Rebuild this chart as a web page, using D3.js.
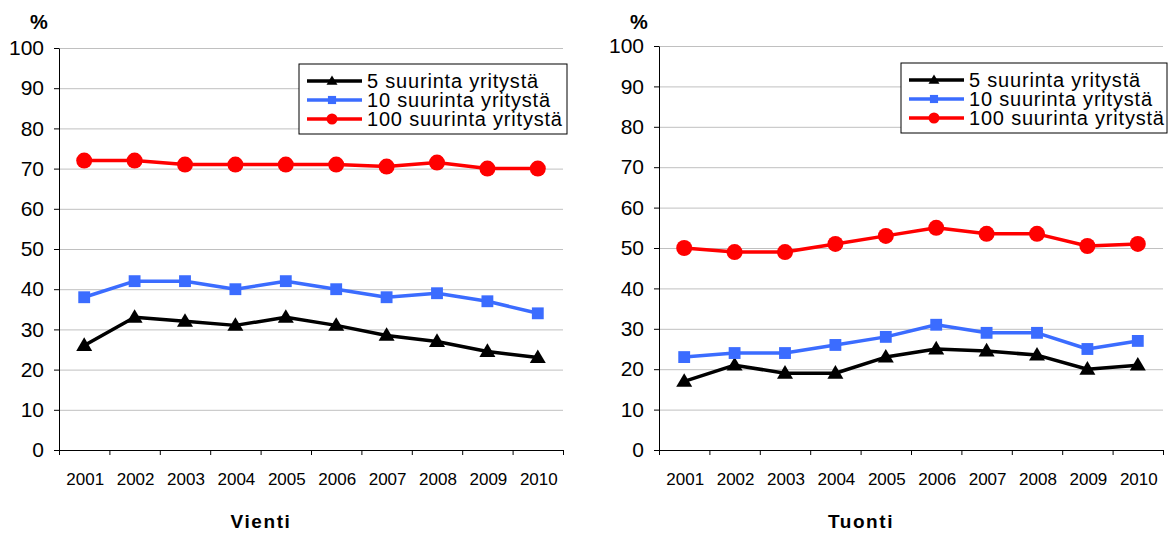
<!DOCTYPE html>
<html>
<head>
<meta charset="utf-8">
<script src="https://cdn.jsdelivr.net/npm/d3@7/dist/d3.min.js"></script>
<style>
  body { margin: 0; background: #fff; }
  svg { display: block; font-family: "Liberation Sans", Arial, sans-serif; }
</style>
</head>
<body>
<svg id="chart" width="1170" height="536"></svg>
<script>
// Data
var years = ['2001', '2002', '2003', '2004', '2005', '2006', '2007', '2008', '2009', '2010'];
var yTicks = [0, 10, 20, 30, 40, 50, 60, 70, 80, 90, 100];
var seriesNames = ['5 suurinta yritystä', '10 suurinta yritystä', '100 suurinta yritystä'];

var vientiTop5 = [26, 33, 32, 31, 33, 31, 28.5, 27, 24.5, 23];
var vientiTop10 = [38, 42, 42, 40, 42, 40, 38, 39, 37, 34];
var vientiTop100 = [72, 72, 71, 71, 71, 71, 70.5, 71.5, 70, 70];

var tuontiTop5 = [17, 21, 19, 19, 23, 25, 24.5, 23.5, 20, 21];
var tuontiTop10 = [23, 24, 24, 26, 28, 31, 29, 29, 25, 27];
var tuontiTop100 = [50, 49, 49, 51, 53, 55, 53.5, 53.5, 50.5, 51];

// Tyylit
var colors = ['#000000', '#3b6cff', '#ff0000'];
var markers = ['triangle', 'square', 'circle'];

var svg = d3.select('#chart');

function drawMarker(g, type, cx, cy, size, color) {
  if (type === 'circle') {
    g.append('circle').attr('cx', cx).attr('cy', cy).attr('r', size / 2).attr('fill', color);
  } else if (type === 'square') {
    var s = size * 0.74;
    g.append('rect').attr('x', cx - s / 2).attr('y', cy - s / 2)
      .attr('width', s).attr('height', s).attr('fill', color);
  } else {
    var h = size * 0.85, w = size;
    g.append('path')
      .attr('d', 'M' + cx + ',' + (cy - h * 0.6) + 'L' + (cx + w / 2) + ',' + (cy + h * 0.4) + 'L' + (cx - w / 2) + ',' + (cy + h * 0.4) + 'Z')
      .attr('fill', color);
  }
}

function drawChart(opts) {
  var g = svg.append('g');

  var x = d3.scaleBand().domain(years).range([opts.left, opts.right]).padding(0);
  var xEdge = d3.scaleLinear().domain([0, years.length]).range([opts.left, opts.right]);
  var y = d3.scaleLinear().domain([0, 100]).range([opts.bottom, opts.top]);

  // Apuviivat
  g.append('g')
    .attr('transform', 'translate(' + opts.left + ',0)')
    .call(d3.axisLeft(y).tickValues(yTicks).tickSize(-(opts.right - opts.left)).tickFormat(''))
    .call(function (s) {
      s.select('.domain').remove();
      s.selectAll('line').attr('stroke', '#c0c0c0');
    });

  // Y-akseli
  g.append('g')
    .attr('transform', 'translate(' + opts.left + ',0)')
    .call(d3.axisLeft(y).tickValues(yTicks).tickSize(5).tickPadding(10).tickSizeOuter(0))
    .call(function (s) {
      s.selectAll('text').attr('font-size', 21).attr('fill', '#000').attr('font-family', '"Liberation Sans", Arial, sans-serif');
      s.selectAll('line, path').attr('stroke', '#000');
    });

  // X-akseli (tikit luokkien rajoilla)
  g.append('g')
    .attr('transform', 'translate(0,' + opts.bottom + ')')
    .call(d3.axisBottom(xEdge).ticks(years.length).tickSize(5).tickSizeOuter(0).tickFormat(''))
    .call(function (s) {
      s.selectAll('line, path').attr('stroke', '#000');
    });

  g.selectAll('.year')
    .data(years)
    .enter()
    .append('text')
    .attr('x', function (d) { return x(d) + x.bandwidth() / 2 + 1; })
    .attr('y', opts.bottom + 35)
    .attr('text-anchor', 'middle')
    .attr('font-size', 17)
    .text(function (d) { return d; });

  // Sarjat
  var line = d3.line()
    .x(function (d, i) { return x(years[i]) + x.bandwidth() / 2; })
    .y(function (d) { return y(d); });

  opts.series.forEach(function (values, k) {
    g.append('path')
      .attr('d', line(values))
      .attr('fill', 'none')
      .attr('stroke', colors[k])
      .attr('stroke-width', 3.5)
      .attr('stroke-linejoin', 'round');
    values.forEach(function (v, i) {
      drawMarker(g, markers[k], x(years[i]) + x.bandwidth() / 2, y(v), 16, colors[k]);
    });
  });

  // %-merkki
  g.append('text')
    .attr('x', opts.left - 20)
    .attr('y', 29)
    .attr('text-anchor', 'middle')
    .attr('font-size', 20)
    .attr('font-weight', 'bold')
    .text('%');

  // Otsikko
  g.append('text')
    .attr('x', opts.left + 202)
    .attr('y', 528)
    .attr('text-anchor', 'middle')
    .attr('font-size', 19)
    .attr('font-weight', 'bold')
    .attr('letter-spacing', 1.6)
    .text(opts.title);

  // Selite
  var lg = g.append('g').attr('transform', 'translate(' + opts.legendX + ',' + opts.legendY + ')');
  lg.append('rect')
    .attr('width', opts.legendW)
    .attr('height', 70)
    .attr('fill', '#fff')
    .attr('stroke', '#000')
    .attr('stroke-width', 1);

  seriesNames.forEach(function (name, k) {
    var ry = 17 + k * 19;
    lg.append('line')
      .attr('x1', 8).attr('x2', 63)
      .attr('y1', ry).attr('y2', ry)
      .attr('stroke', colors[k])
      .attr('stroke-width', 3.5);
    drawMarker(lg, markers[k], 33, ry, 11, colors[k]);
    lg.append('text')
      .attr('x', 68)
      .attr('y', ry + 7)
      .attr('font-size', 20)
      .attr('letter-spacing', 0.8)
      .text(name);
  });
}

drawChart({
  left: 59, right: 563, top: 48, bottom: 450,
  series: [vientiTop5, vientiTop10, vientiTop100],
  title: 'Vienti',
  legendX: 299, legendY: 64, legendW: 268
});

drawChart({
  left: 659, right: 1163, top: 46, bottom: 450,
  series: [tuontiTop5, tuontiTop10, tuontiTop100],
  title: 'Tuonti',
  legendX: 901, legendY: 63, legendW: 266
});
</script>
</body>
</html>
